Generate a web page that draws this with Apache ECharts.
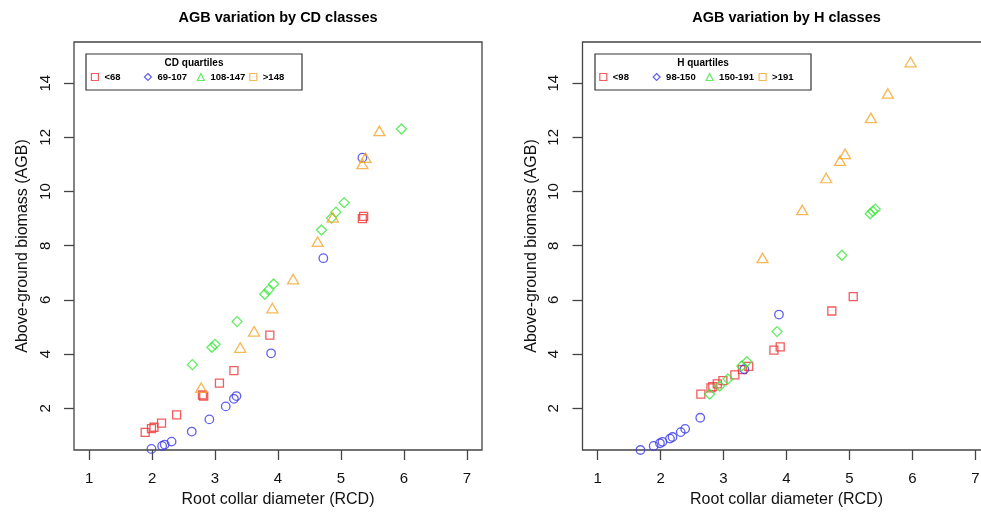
<!DOCTYPE html>
<html>
<head>
<meta charset="utf-8">
<title>AGB variation</title>
<script src="https://cdn.jsdelivr.net/npm/echarts@6/dist/echarts.min.js"></script>
<style>
  html, body { margin: 0; padding: 0; background: #fff; }
  #chart { width: 981px; height: 512px; }
</style>
</head>
<body>
<div id="chart"></div>
<script>
// tick values shared by both panels
const xTicks = [1, 2, 3, 4, 5, 6, 7];
const yTicks = [2, 4, 6, 8, 10, 12, 14];

// left panel: CD quartiles, [RCD, AGB]
const cdNames = ['<68', '69-107', '108-147', '>148'];
const cdLt68 = [[1.89, 1.11], [1.99, 1.25], [2.03, 1.30], [2.15, 1.45], [2.39, 1.76], [2.80, 2.49], [2.82, 2.45],
  [3.07, 2.93], [3.30, 3.39], [3.87, 4.70], [5.34, 9.00], [5.36, 9.08]];
const cd69to107 = [[1.99, 0.50], [2.16, 0.61], [2.20, 0.66], [2.31, 0.77], [2.63, 1.14], [2.91, 1.59], [3.17, 2.07],
  [3.30, 2.35], [3.34, 2.45], [3.89, 4.03], [4.72, 7.54], [5.34, 11.25]];
const cd108to147 = [[2.64, 3.61], [2.95, 4.25], [3.00, 4.36], [3.35, 5.20], [3.79, 6.21], [3.85, 6.37], [3.93, 6.59],
  [4.69, 8.58], [4.85, 9.02], [4.92, 9.24], [5.05, 9.59], [5.96, 12.31]];
const cdGt148 = [[2.78, 2.76], [3.40, 4.24], [3.62, 4.84], [3.91, 5.70], [4.24, 6.77], [4.63, 8.15], [4.87, 9.05],
  [5.34, 11.02], [5.39, 11.25], [5.61, 12.24]];

// right panel: H quartiles, [RCD, AGB]
const hNames = ['<98', '98-150', '150-191', '>191'];
const hLt98 = [[2.64, 2.52], [2.80, 2.75], [2.83, 2.80], [2.90, 2.90], [2.99, 3.02], [3.18, 3.23], [3.30, 3.43],
  [3.40, 3.55], [3.80, 4.15], [3.90, 4.27], [4.72, 5.59], [5.06, 6.12]];
const h98to150 = [[1.68, 0.46], [1.89, 0.61], [1.99, 0.71], [2.03, 0.76], [2.15, 0.88], [2.19, 0.94], [2.32, 1.12],
  [2.39, 1.24], [2.63, 1.65], [3.33, 3.44], [3.88, 5.46]];
const h150to191 = [[2.78, 2.52], [2.94, 2.82], [3.07, 3.08], [3.29, 3.56], [3.37, 3.72], [3.85, 4.83], [4.88, 7.65],
  [5.33, 9.18], [5.37, 9.27], [5.41, 9.35]];
const hGt191 = [[3.62, 7.55], [4.25, 9.32], [4.63, 10.50], [4.85, 11.14], [4.93, 11.39], [5.34, 12.72], [5.61, 13.62],
  [5.97, 14.78]];

const colors = ['#ee3535', '#3838e8', '#3ae83a', '#f5a52a'];
const plotSymbols = ['rect', 'circle', 'diamond', 'triangle'];
const plotSizes = [8, 8.5, 10, [11, 9.5]];
const legendIcons = ['rect', 'diamond', 'triangle', 'rect'];
const font = '"Liberation Sans", Arial, sans-serif';

function scatter(name, data, k, gridIdx) {
  return {
    name: name,
    type: 'scatter',
    xAxisIndex: gridIdx,
    yAxisIndex: gridIdx,
    data: data,
    symbol: plotSymbols[k],
    symbolSize: plotSizes[k],
    itemStyle: { color: 'transparent', borderColor: colors[k], borderWidth: 1.3 },
    emphasis: { disabled: true },
    clip: true,
  };
}

function xAxis(idx) {
  return {
    gridIndex: idx,
    type: 'value',
    min: 0.76,
    max: 7.24,
    axisLine: { show: false },
    splitLine: { show: false },
    axisTick: { show: true, customValues: xTicks, length: 10, lineStyle: { color: '#444', width: 1.3 } },
    axisLabel: { customValues: xTicks, margin: 21, fontSize: 15, color: '#111', fontFamily: font },
    name: 'Root collar diameter (RCD)',
    nameLocation: 'middle',
    nameGap: 42,
    nameTextStyle: { fontSize: 16, color: '#111', fontFamily: font },
  };
}

function yAxis(idx) {
  return {
    gridIndex: idx,
    type: 'value',
    min: 0.46,
    max: 15.52,
    axisLine: { show: false },
    splitLine: { show: false },
    axisTick: { show: true, customValues: yTicks, length: 10, lineStyle: { color: '#444', width: 1.3 } },
    axisLabel: { customValues: yTicks, margin: 21, rotate: 90, fontSize: 15, color: '#111', fontFamily: font },
    name: 'Above-ground biomass (AGB)',
    nameLocation: 'middle',
    nameGap: 43,
    nameTextStyle: { fontSize: 16, color: '#111', fontFamily: font },
  };
}

// one legend per entry so the spacing matches the reference
const legendLeftCD = [94.3, 147.3, 200.3, 252.7];
const legendLeftH = [602.7, 656, 709, 762];
const legends = [];
[[cdNames, legendLeftCD], [hNames, legendLeftH]].forEach(([names, lefts]) => {
  names.forEach((n, k) => {
    legends.push({
      left: lefts[k] - 3.5,
      top: 72,
      padding: 0,
      itemWidth: 7,
      itemHeight: 7,
      itemGap: 0,
      selectedMode: false,
      data: [{
        name: n,
        icon: legendIcons[k],
        itemStyle: { color: 'transparent', borderColor: colors[k], borderWidth: 1.2 },
      }],
      textStyle: { fontSize: 9.5, fontWeight: 'bold', color: '#000', fontFamily: font, padding: [0, 0, 0, 1] },
    });
  });
});

function label(x, y, text, size, bold) {
  return {
    type: 'text',
    x: x,
    y: y,
    style: {
      text: text,
      fontSize: size,
      fontWeight: bold ? 'bold' : 'normal',
      fontFamily: font,
      fill: '#000',
      align: 'center',
      verticalAlign: 'middle',
    },
  };
}

const option = {
  backgroundColor: '#fff',
  animation: false,
  grid: [
    { left: 74, top: 42, width: 408, height: 408, show: true, borderColor: '#444', borderWidth: 1.3, outerBoundsMode: 'none' },
    { left: 582.5, top: 42, width: 408, height: 408, show: true, borderColor: '#444', borderWidth: 1.3, outerBoundsMode: 'none' },
  ],
  xAxis: [xAxis(0), xAxis(1)],
  yAxis: [yAxis(0), yAxis(1)],
  legend: legends,
  graphic: [
    label(278, 18, 'AGB variation by CD classes', 14.5, true),
    label(786.5, 18, 'AGB variation by H classes', 14.5, true),
    { type: 'rect', shape: { x: 86, y: 54, width: 216, height: 36 }, style: { fill: '#fff', stroke: '#333', lineWidth: 1.2 } },
    { type: 'rect', shape: { x: 595, y: 54, width: 216, height: 36 }, style: { fill: '#fff', stroke: '#333', lineWidth: 1.2 } },
    label(194, 63, 'CD quartiles', 10, true),
    label(703, 63, 'H quartiles', 10, true),
  ],
  series: [
    scatter(cdNames[0], cdLt68, 0, 0),
    scatter(cdNames[1], cd69to107, 1, 0),
    scatter(cdNames[2], cd108to147, 2, 0),
    scatter(cdNames[3], cdGt148, 3, 0),
    scatter(hNames[0], hLt98, 0, 1),
    scatter(hNames[1], h98to150, 1, 1),
    scatter(hNames[2], h150to191, 2, 1),
    scatter(hNames[3], hGt191, 3, 1),
  ],
};

const myChart = echarts.init(document.getElementById('chart'));
myChart.setOption(option);
</script>
</body>
</html>
